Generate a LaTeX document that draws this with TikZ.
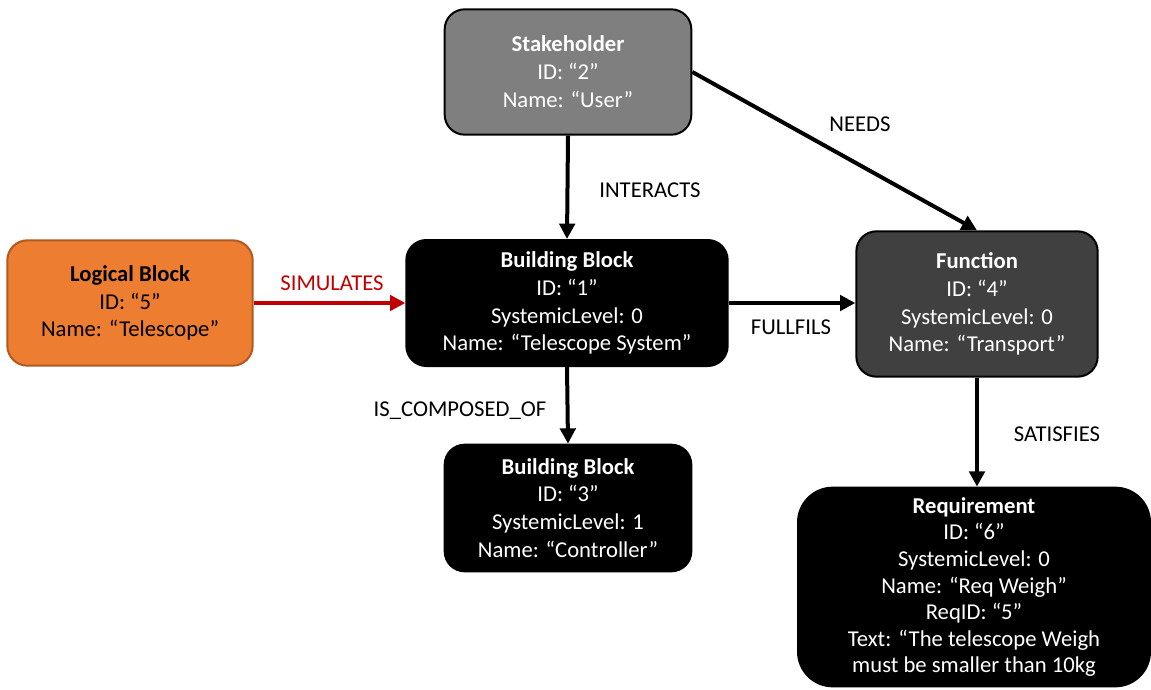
\documentclass[tikz,border=0pt]{standalone}
\usepackage{fontspec}
\setmainfont{Carlito}
\usepackage{xcolor}
\usetikzlibrary{arrows.meta,positioning,calc}
\definecolor{shgray}{RGB}{127,127,127}
\definecolor{fngray}{RGB}{64,64,64}
\definecolor{lborange}{RGB}{237,125,49}
\definecolor{lbedge}{RGB}{174,90,33}
\definecolor{simred}{RGB}{192,0,0}
\definecolor{ink}{RGB}{0,0,0}

\begin{document}
\begin{tikzpicture}[x=0.75pt,y=-0.75pt,>={Triangle[length=11.5pt,width=11.5pt]},font=\fontsize{17}{20.9}\selectfont]
\tikzset{blk/.style={draw=ink,line width=1.5pt,rounded corners=15pt,align=center,text=white,fill=black,inner sep=2pt},
  stake/.style={blk,fill=shgray,minimum width=185pt,minimum height=94pt},
  logic/.style={blk,fill=lborange,draw=lbedge,text=black,minimum width=184pt,minimum height=94pt},
  func/.style={blk,fill=fngray,minimum width=181pt,minimum height=109pt},
  req/.style={blk,rounded corners=26pt,minimum width=264pt,minimum height=149pt,font=\fontsize{17}{19.9}\selectfont},
  lbl/.style={inner sep=0pt},arr/.style={->,line width=3pt,draw=ink}}
\useasboundingbox (0,0) rectangle (1151,689);
\node[stake] (sh) at (568,72) {\textbf{Stakeholder}\\ID: “2”\\Name: “User”};
\node[logic] (lb) at (130,303) {\textbf{Logical Block}\\ID: “5”\\Name: “Telescope”};
\node[blk,minimum width=241pt,minimum height=94.5pt] (bb1) at (567,303) {\textbf{Building Block}\\ID: “1”\\SystemicLevel: 0\\Name: “Telescope System”};
\node[func] (fn) at (977,304) {\textbf{Function}\\ID: “4”\\SystemicLevel: 0\\Name: “Transport”};
\node[blk,minimum width=185pt,minimum height=95pt] (bb3) at (568,508) {\textbf{Building Block}\\ID: “3”\\SystemicLevel: 1\\Name: “Controller”};
\node[req] (rq) at (974,587) {\textbf{Requirement}\\ID: “6”\\SystemicLevel: 0\\Name: “Req Weigh”\\ReqID: “5”\\Text: “The telescope Weigh\\must be smaller than 10kg};
% relation labels
\node[lbl] (tint) at (650,190) {INTERACTS};
\node[lbl] (tneed) at (860,124) {NEEDS};
\node[lbl,text=simred] (tsim) at (332,283) {SIMULATES};
\node[lbl] (tful) at (791,327) {FULLFILS};
\node[lbl] (tcomp) at (460,411) {IS\_COMPOSED\_OF};
\node[lbl] (tsat) at (1057,434) {SATISFIES};
\draw[arr] (sh.south)--(bb1.north);
\draw[arr] (sh.east)--(fn.north);
\draw[arr,draw=simred] (lb.east)--(bb1.west);
\draw[arr] (bb1.east)--(bb1.east -| fn.west);
\draw[arr] (bb1.south)--(bb3.north);
\draw[arr] (fn.south)--(fn.south |- rq.north);
\end{tikzpicture}
\end{document}
